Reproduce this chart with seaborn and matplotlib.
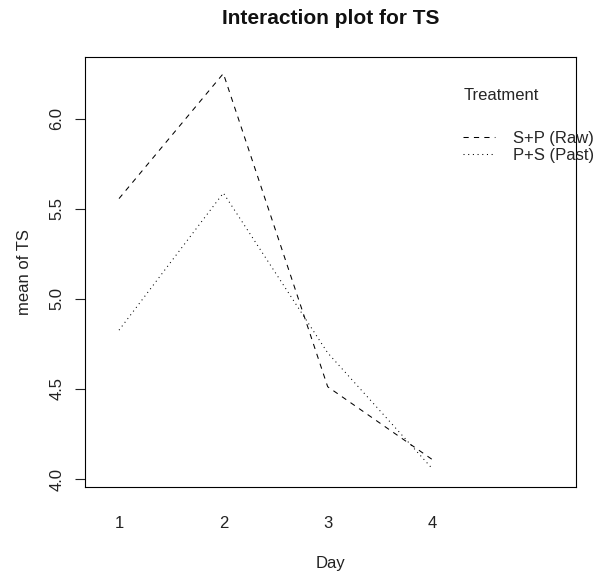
import numpy as np
import pandas as pd
import matplotlib
matplotlib.use("Agg")
import matplotlib.pyplot as plt
import seaborn as sns

# values
days = [1, 2, 3, 4]
treatments = ["S+P (Raw)", "P+S (Past)"]
raw_means = [5.556, 6.250, 4.512, 4.109]
past_means = [4.826, 5.587, 4.700, 4.059]
y_ticks = [4.0, 4.5, 5.0, 5.5, 6.0]

df = pd.DataFrame({
    "Day": days * 2,
    "TS": raw_means + past_means,
    "Treatment": [treatments[0]] * 4 + [treatments[1]] * 4,
})

sns.set_style("white")
plt.rcParams["font.family"] = ["Liberation Sans", "DejaVu Sans"]

fig = plt.figure(figsize=(5.97, 5.79), dpi=100)
ax = fig.add_axes([85 / 597, 1 - 487.3 / 579, (576 - 85) / 597, (487.3 - 57.3) / 579])

sns.lineplot(data=df, x="Day", y="TS", style="Treatment", style_order=treatments,
             dashes=[(5, 5), (1, 3.5)], color="black", linewidth=0.75,
             ax=ax, legend=True)

ax.set_xlim(0.674, 5.38)
ax.set_ylim(3.954, 6.34)
ax.set_xticks(days)
ax.set_xticklabels([str(d) for d in days])
ax.set_yticks(y_ticks)
ax.set_yticklabels([f"{v:.1f}" for v in y_ticks], rotation=90, va="center")

ax.tick_params(axis="x", length=0, pad=21, labelsize=12, colors="#222222")
ax.tick_params(axis="y", length=7, width=0.8, pad=8, labelsize=12,
               left=True, direction="out", colors="#222222")

for s in ax.spines.values():
    s.set_visible(True)
    s.set_color("black")
    s.set_linewidth(0.8)

ax.set_xlabel("Day", fontsize=12, labelpad=18, color="#222222")
ax.set_ylabel("mean of TS", fontsize=12, labelpad=12, color="#222222")
ax.set_title("Interaction plot for TS", fontsize=15, fontweight="bold",
             pad=24, color="#111111")

handles, labels = ax.get_legend_handles_labels()
leg = ax.legend(handles, labels, title="Treatment", loc="upper left",
                bbox_to_anchor=(455 / 597, 1 - 80 / 579), bbox_transform=fig.transFigure,
                frameon=False, fontsize=12, title_fontsize=12, handlelength=1.9,
                handletextpad=1.1, labelspacing=0.1, alignment="left", borderpad=0)
leg._legend_box.sep = 20

fig.savefig("out.png", dpi=100)
